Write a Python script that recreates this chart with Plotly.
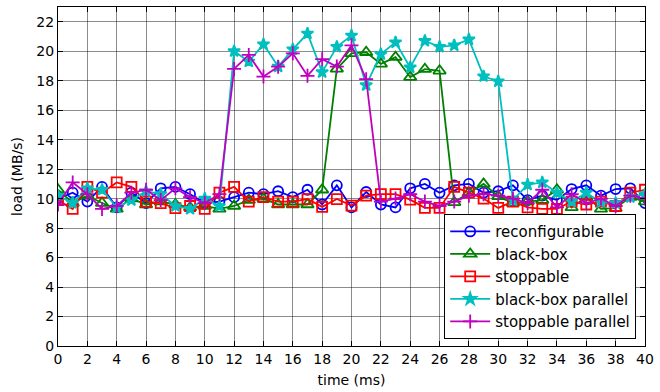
import plotly.graph_objects as go

time_ms = list(range(0, 41))

reconfigurable = [10.0, 10.4, 9.8, 10.8, 9.4, 10.4, 9.7, 10.7, 10.8, 10.3, 9.7,
                  9.8, 10.1, 10.4, 10.3, 10.5, 10.1, 10.6, 9.6, 10.9, 9.4,
                  10.45, 9.6, 9.4, 10.7, 11.0, 10.4, 10.9, 11.0, 10.4, 10.5,
                  10.9, 9.9, 10.2, 9.9, 10.65, 10.9, 10.2, 10.65, 10.7, 9.7]
black_box = [10.6, 9.7, 10.2, 9.7, 9.3, 10.0, 9.6, 9.8, 9.6, 9.4, 9.5,
             9.3, 9.5, 9.9, 10.0, 9.6, 9.6, 9.6, 10.6, 18.8, 19.86,
             19.93, 19.14, 19.6, 18.24, 18.78, 18.67, 9.75, 10.4, 11.0, 10.15,
             9.7, 9.8, 9.9, 10.6, 9.4, 10.1, 9.3, 9.35, 10.1, 9.8]
stoppable = [9.9, 9.3, 10.8, 10.4, 11.1, 10.8, 9.8, 9.7, 9.35, 9.5, 9.3,
             10.4, 10.8, 9.8, 10.1, 9.8, 9.8, 9.97, 9.44, 9.97, 9.53,
             10.2, 10.3, 10.3, 9.93, 9.37, 9.37, 10.8, 10.4, 10.0, 9.37,
             9.8, 9.4, 9.3, 9.3, 9.8, 9.6, 9.8, 9.5, 10.4, 10.6]
black_box_parallel = [10.2, 9.7, 10.7, 10.6, 9.4, 9.9, 10.5, 10.3, 9.5, 9.3, 10.0,
                      9.5, 20.0, 19.3, 20.47, 18.96, 20.13, 21.2, 18.58, 20.3, 21.06,
                      17.7, 19.8, 20.6, 18.9, 20.7, 20.3, 20.4, 20.8, 18.3, 17.95,
                      9.9, 10.95, 11.1, 10.4, 9.8, 10.4, 9.75, 9.7, 10.1, 10.3]
stoppable_parallel = [9.6, 11.1, 10.3, 9.3, 9.5, 10.4, 10.6, 9.9, 10.7, 10.1, 9.7,
                      10.3, 18.8, 19.75, 18.28, 18.95, 19.86, 18.33, 19.46, 18.96, 20.4,
                      18.1, 9.8, 10.0, 10.3, 9.8, 9.5, 9.8, 10.2, 10.3, 10.2,
                      10.0, 9.7, 10.6, 9.4, 10.3, 9.7, 10.0, 9.5, 10.2, 10.0]

series = [
    ("reconfigurable", reconfigurable, "#0000ff", "circle-open", 10),
    ("black-box", black_box, "#008000", "triangle-up-open", 11),
    ("stoppable", stoppable, "#ff0000", "square-open", 10),
    ("black-box parallel", black_box_parallel, "#00bfbf", "star", 9),
    ("stoppable parallel", stoppable_parallel, "#bf00bf", "cross-thin-open", 10),
]

fig = go.Figure()
for name, vals, color, sym, size in series:
    fig.add_trace(go.Scatter(
        x=time_ms, y=vals, name=name, mode="lines+markers",
        line=dict(color=color, width=1.8),
        marker=dict(symbol=sym, size=size, color=color,
                    line=dict(color=color, width=1.8)),
    ))

axis_common = dict(
    showline=True, linecolor="black", linewidth=1.2, mirror="allticks",
    ticks="inside", ticklen=5, tickcolor="black",
    showgrid=True, gridcolor="rgba(0,0,0,0.45)", gridwidth=1,
    zeroline=False,
    tickfont=dict(family="DejaVu Sans", size=14, color="black"),
)

fig.update_layout(
    width=660, height=392,
    margin=dict(l=58, r=10, t=6, b=45),
    paper_bgcolor="white", plot_bgcolor="white",
    font=dict(family="DejaVu Sans", color="black"),
    xaxis=dict(range=[0, 40], dtick=2, tick0=0,
               title=dict(text="time (ms)", font=dict(size=14), standoff=9),
               **axis_common),
    yaxis=dict(range=[0, 23], dtick=2, tick0=0,
               title=dict(text="load (MB/s)", font=dict(size=14), standoff=10),
               **axis_common),
    legend=dict(x=0.985, y=0.02, xanchor="right", yanchor="bottom",
                bgcolor="white", bordercolor="black", borderwidth=1,
                font=dict(size=15, family="DejaVu Sans"),
                tracegroupgap=0, itemwidth=40),
    showlegend=True,
)

fig.write_html("out.html")
